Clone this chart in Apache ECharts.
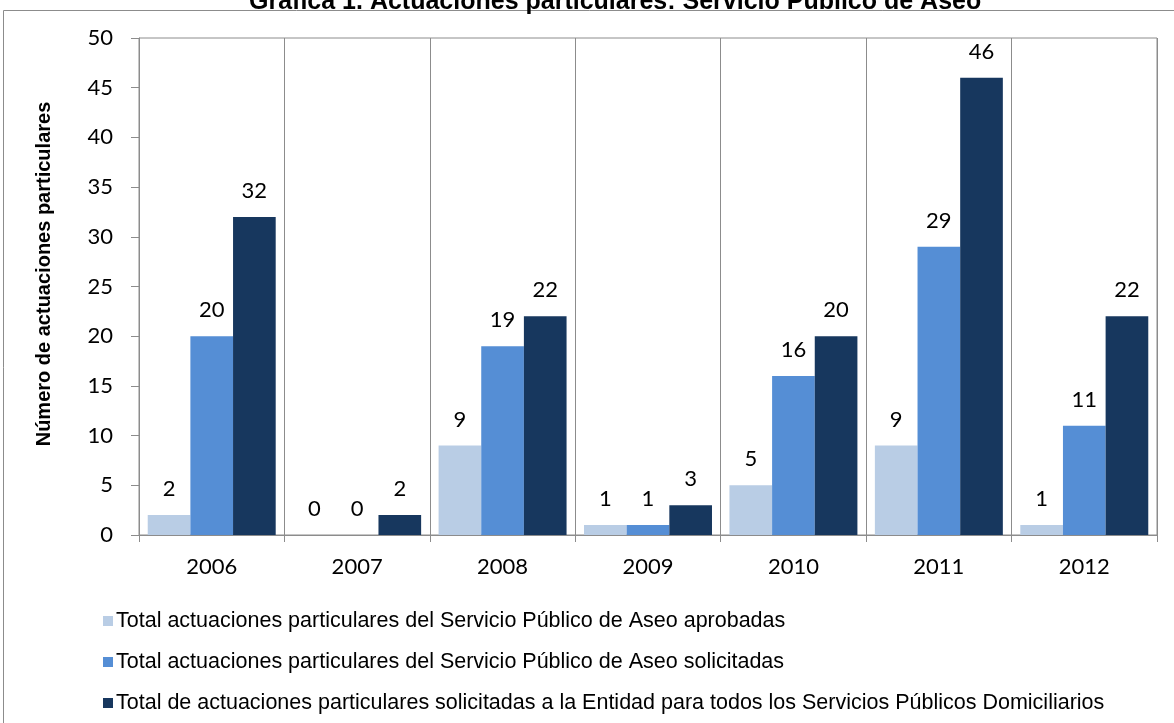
<!DOCTYPE html>
<html>
<head>
<meta charset="utf-8">
<script src="https://cdn.jsdelivr.net/npm/echarts@6/dist/echarts.min.js"></script>
<style>
  html, body { margin: 0; padding: 0; background: #fff; }
  #chart { width: 1174px; height: 723px; }
</style>
</head>
<body>
<div id="chart"></div>
<script>
// Years on the category axis
const years = ['2006', '2007', '2008', '2009', '2010', '2011', '2012'];

// Series values per year
const aprobadas = [2, 0, 9, 1, 5, 9, 1];
const solicitadas = [20, 0, 19, 1, 16, 29, 11];
const totalEntidad = [32, 2, 22, 3, 20, 46, 22];

// Series names shown in the legend
const seriesNames = [
  'Total actuaciones particulares del Servicio Público de Aseo aprobadas',
  'Total actuaciones particulares del Servicio Público de Aseo solicitadas',
  'Total de actuaciones particulares solicitadas a la Entidad para todos los Servicios Públicos Domiciliarios'
];
const seriesColors = ['#B9CDE5', '#558ED5', '#17375E'];

const chart = echarts.init(document.getElementById('chart'));

const labelStyle = {
  show: true,
  position: 'top',
  distance: 15,
  fontFamily: 'Lato',
  fontSize: 22,
  color: '#000'
};

function makeSeries(name, data, color) {
  return {
    name: name,
    type: 'bar',
    data: data,
    barGap: '0%',
    barCategoryGap: '12%',
    itemStyle: { color: color },
    label: labelStyle
  };
}

chart.setOption({
  animation: false,
  title: {
    text: 'Gráfica 1. Actuaciones particulares: Servicio Público de Aseo',
    left: 244,
    top: -15,
    textStyle: { fontFamily: 'Liberation Sans', fontWeight: 'bold', fontSize: 25, color: '#000' }
  },
  graphic: [{
    // outer chart frame
    type: 'rect',
    shape: { x: 3.5, y: 10.5, width: 1300, height: 900 },
    style: { fill: 'none', stroke: '#8c8c8c', lineWidth: 1 },
    z: -1
  }, {
    // value axis title
    type: 'text',
    x: 44,
    y: 274,
    rotation: Math.PI / 2,
    style: {
      text: 'Número de actuaciones particulares',
      font: 'bold 20px "Liberation Sans"',
      fill: '#000',
      align: 'center',
      verticalAlign: 'middle'
    }
  }],
  legend: {
    orient: 'vertical',
    left: 98,
    top: 605,
    itemWidth: 10,
    itemHeight: 10,
    itemGap: 19,
    icon: 'rect',
    textStyle: { fontFamily: 'Liberation Sans', fontSize: 21.5, lineHeight: 21, color: '#000', padding: [0, 0, 0, -2] },
    data: seriesNames
  },
  grid: {
    left: 139,
    right: 17,
    top: 38,
    bottom: 188,
    show: true,
    borderColor: '#8c8c8c',
    borderWidth: 1
  },
  xAxis: {
    type: 'category',
    data: years,
    axisLine: { lineStyle: { color: '#8c8c8c' } },
    axisTick: { show: true, length: 7, lineStyle: { color: '#8c8c8c' } },
    axisLabel: { fontFamily: 'Lato', fontSize: 22, color: '#000', margin: 21 },
    splitLine: { show: true, lineStyle: { color: '#8c8c8c', width: 1 } }
  },
  yAxis: {
    type: 'value',
    min: 0,
    max: 50,
    interval: 5,
    axisLine: { show: true, lineStyle: { color: '#8c8c8c' } },
    axisTick: { show: true, length: 8, lineStyle: { color: '#8c8c8c' } },
    axisLabel: { fontFamily: 'Lato', fontSize: 22, color: '#000', margin: 26 },
    splitLine: { show: false }
  },
  series: [
    makeSeries(seriesNames[0], aprobadas, seriesColors[0]),
    makeSeries(seriesNames[1], solicitadas, seriesColors[1]),
    makeSeries(seriesNames[2], totalEntidad, seriesColors[2])
  ]
});
</script>
</body>
</html>
